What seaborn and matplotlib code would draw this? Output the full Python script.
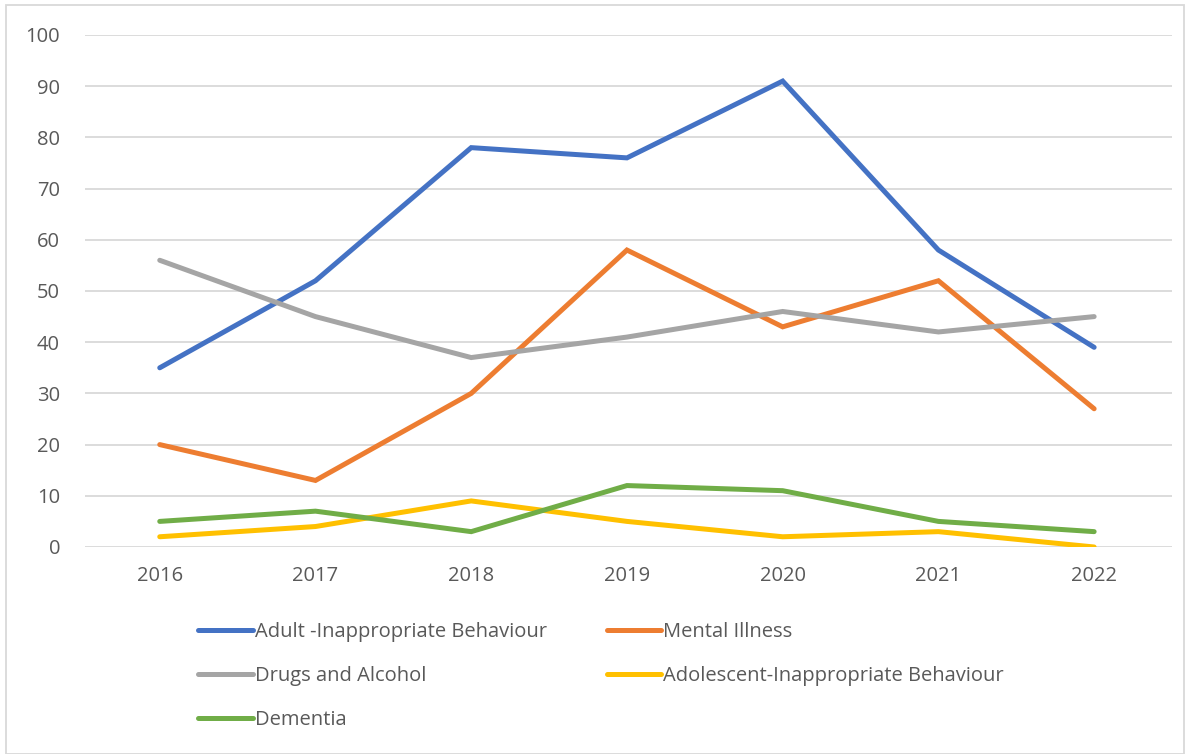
import pandas as pd
import matplotlib
matplotlib.use("Agg")
import matplotlib.pyplot as plt
import seaborn as sns
from matplotlib.patches import Rectangle

years = ["2016", "2017", "2018", "2019", "2020", "2021", "2022"]
adult = [35, 52, 78, 76, 91, 58, 39]
mental = [20, 13, 30, 58, 43, 52, 27]
drugs = [56, 45, 37, 41, 46, 42, 45]
adolescent = [2, 4, 9, 5, 2, 3, 0]
dementia = [5, 7, 3, 12, 11, 5, 3]

series = {
    "Adult -Inappropriate Behaviour": adult,
    "Mental Illness": mental,
    "Drugs and Alcohol": drugs,
    "Adolescent-Inappropriate Behaviour": adolescent,
    "Dementia": dementia,
}
colors = ["#4472C4", "#ED7D31", "#A5A5A5", "#FFC000", "#70AD47"]

rows = []
for name, vals in series.items():
    for y, v in zip(years, vals):
        rows.append({"Year": y, "Value": v, "Series": name})
df = pd.DataFrame(rows)

sns.set_style("white")
plt.rcParams['font.family'] = ['Open Sans', 'DejaVu Sans']

fig = plt.figure(figsize=(11.91, 7.54), dpi=100)
ax = fig.add_axes([85 / 1191, 1 - 547 / 754, 1087 / 1191, 512 / 754])

sns.lineplot(data=df, x="Year", y="Value", hue="Series", palette=colors,
             linewidth=3.6, ax=ax, legend=False, sort=False)
for ln in ax.lines:
    ln.set_solid_capstyle("round")
    ln.set_solid_joinstyle("miter")

ax.set_ylim(0, 100)
ax.set_xlim(-0.48, 6.5)
ax.set_yticks(range(0, 101, 10))
ax.yaxis.grid(True, color="#D9D9D9", linewidth=1.3)
ax.set_axisbelow(True)
for s in ax.spines.values():
    s.set_visible(False)
ax.tick_params(axis="both", length=0, labelsize=14.5, colors="#595959", pad=18)
ax.tick_params(axis="x", pad=14)
ax.set_xlabel("")
ax.set_ylabel("")

handles = {name: plt.Line2D([], [], color=c, linewidth=3.6, solid_capstyle="round")
           for name, c in zip(series.keys(), colors)}
order = ["Adult -Inappropriate Behaviour", "Drugs and Alcohol", "Dementia",
         "Mental Illness", "Adolescent-Inappropriate Behaviour"]
leg = fig.legend([handles[n] for n in order], order, ncol=2, loc="upper left",
                 bbox_to_anchor=(180 / 1191, 1 - 604 / 754), frameon=False,
                 fontsize=14.5, handlelength=2.7, handletextpad=0.1,
                 columnspacing=3.0, labelspacing=1.2)
for t in leg.get_texts():
    t.set_color("#595959")

fig.patches.append(Rectangle((6 / 1191, 0), 1178 / 1191, 1 - 5 / 754,
                             transform=fig.transFigure, fill=False,
                             edgecolor="#D9D9D9", linewidth=1.3))

fig.savefig("out.png", dpi=100)
